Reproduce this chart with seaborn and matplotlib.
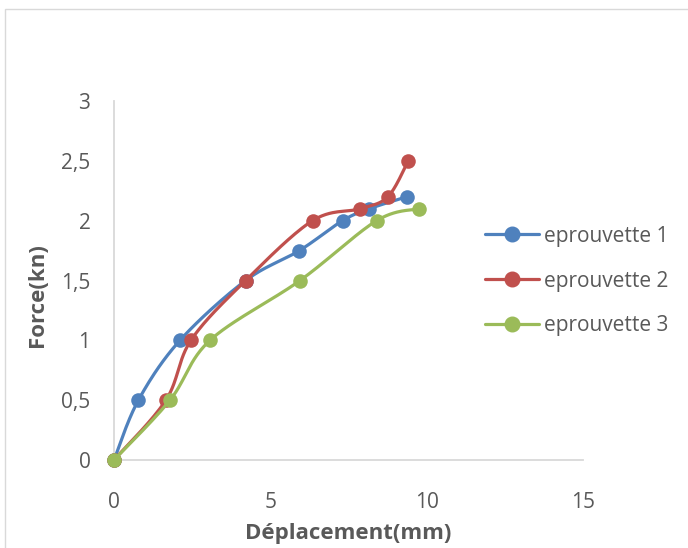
import numpy as np
import pandas as pd
import matplotlib
matplotlib.use("Agg")
import matplotlib.pyplot as plt
import seaborn as sns
from matplotlib.patches import Rectangle

# Displacement (mm) and force (kN) for each test specimen
disp_1 = [0, 0.78, 2.11, 4.21, 5.93, 7.31, 8.17, 9.37]
force_1 = [0, 0.5, 1.0, 1.5, 1.75, 2.0, 2.1, 2.2]
disp_2 = [0, 1.66, 2.46, 4.21, 6.35, 7.87, 8.76, 9.41]
force_2 = [0, 0.5, 1.0, 1.5, 2.0, 2.1, 2.2, 2.5]
disp_3 = [0, 1.79, 3.07, 5.95, 8.40, 9.75]
force_3 = [0, 0.5, 1.0, 1.5, 2.0, 2.1]

series_names = ["eprouvette 1", "eprouvette 2", "eprouvette 3"]
colors = ["#4F81BD", "#C0504D", "#9BBB59"]
x_ticks = [0, 5, 10, 15]
y_ticks = [0, 0.5, 1, 1.5, 2, 2.5, 3]
y_tick_labels = ["0", "0,5", "1", "1,5", "2", "2,5", "3"]

sns.set_theme(style="white")
plt.rcParams["font.family"] = ["Open Sans", "DejaVu Sans"]

W, H = 688, 548
fig = plt.figure(figsize=(W / 100, H / 100), dpi=100)
left, right, bottom, top = 114, 583, 460, 101
ax = fig.add_axes([left / W, 1 - bottom / H, (right - left) / W, (bottom - top) / H])
ax.set_xlim(0, 15)
ax.set_ylim(0, 3)

# screen scale used for smoothing (pixels per data unit)
sx = (right - left) / 15.0
sy = (bottom - top) / 3.0


def smooth_curve(xs, ys, n=30):
    """Cardinal (Catmull-Rom style) Bezier smoothing in screen space."""
    p = np.column_stack([np.asarray(xs) * sx, np.asarray(ys) * sy])
    out = [p[0]]
    m = len(p)
    for i in range(m - 1):
        p0 = p[i - 1] if i > 0 else p[i]
        p1, p2 = p[i], p[i + 1]
        p3 = p[i + 2] if i + 2 < m else p[i + 1]
        c1 = p1 + (p2 - p0) / 6.0
        c2 = p2 - (p3 - p1) / 6.0
        t = np.linspace(0, 1, n)[1:, None]
        seg = ((1 - t) ** 3) * p1 + 3 * ((1 - t) ** 2) * t * c1 + 3 * (1 - t) * t ** 2 * c2 + t ** 3 * p2
        out.extend(seg)
    out = np.array(out)
    return out[:, 0] / sx, out[:, 1] / sy


frames = []
for name, xs, ys in zip(series_names, [disp_1, disp_2, disp_3], [force_1, force_2, force_3]):
    frames.append(pd.DataFrame({"disp": xs, "force": ys, "specimen": name}))
points = pd.concat(frames, ignore_index=True)

for k, (name, color) in enumerate(zip(series_names, colors)):
    sub = points[points["specimen"] == name]
    cx, cy = smooth_curve(sub["disp"].values, sub["force"].values)
    ax.plot(cx, cy, color=color, lw=2.3, solid_capstyle="round", zorder=2 + 2 * k, clip_on=False)
    sns.scatterplot(x=sub["disp"], y=sub["force"], ax=ax, color=color, s=110,
                    edgecolor=color, linewidth=0, zorder=3 + 2 * k, legend=False, clip_on=False)

# legend handles: line with marker
handles = [plt.Line2D([0], [0], color=c, lw=2.3, marker="o", ms=10.5, mec=c) for c in colors]
leg = fig.legend(handles, series_names, loc="center left", bbox_to_anchor=(485 / W, 1 - 281 / H),
                 frameon=False, fontsize=15, handlelength=2.6, handletextpad=0.25,
                 labelspacing=1.15, labelcolor="#595959", borderaxespad=0, borderpad=0)

ax.set_xticks(x_ticks)
ax.set_yticks(y_ticks)
ax.set_yticklabels(y_tick_labels)
ax.tick_params(axis="both", length=0, labelsize=15, colors="#595959")
ax.tick_params(axis="x", pad=23)
ax.tick_params(axis="y", pad=17)
for s in ["top", "right"]:
    ax.spines[s].set_visible(False)
for s in ["left", "bottom"]:
    ax.spines[s].set_color("#d9d9d9")
    ax.spines[s].set_linewidth(1.3)
ax.grid(False)
ax.set_xlabel("Déplacement(mm)", fontsize=16, fontweight="bold", color="#595959", va="center")
ax.set_ylabel("Force(kn)", fontsize=16, fontweight="bold", color="#595959", va="center")
ax.xaxis.set_label_coords(0.5, (bottom - 533) / (bottom - top))
ax.yaxis.set_label_coords((38 - left) / (right - left), (bottom - 295) / (bottom - top))

# chart area border
fig.patches.append(Rectangle((5 / W, -0.01), 1.0, 1 - 9 / H + 0.01, transform=fig.transFigure,
                             fill=False, edgecolor="#d9d9d9", lw=1.0))

fig.savefig("out.png", dpi=100)
